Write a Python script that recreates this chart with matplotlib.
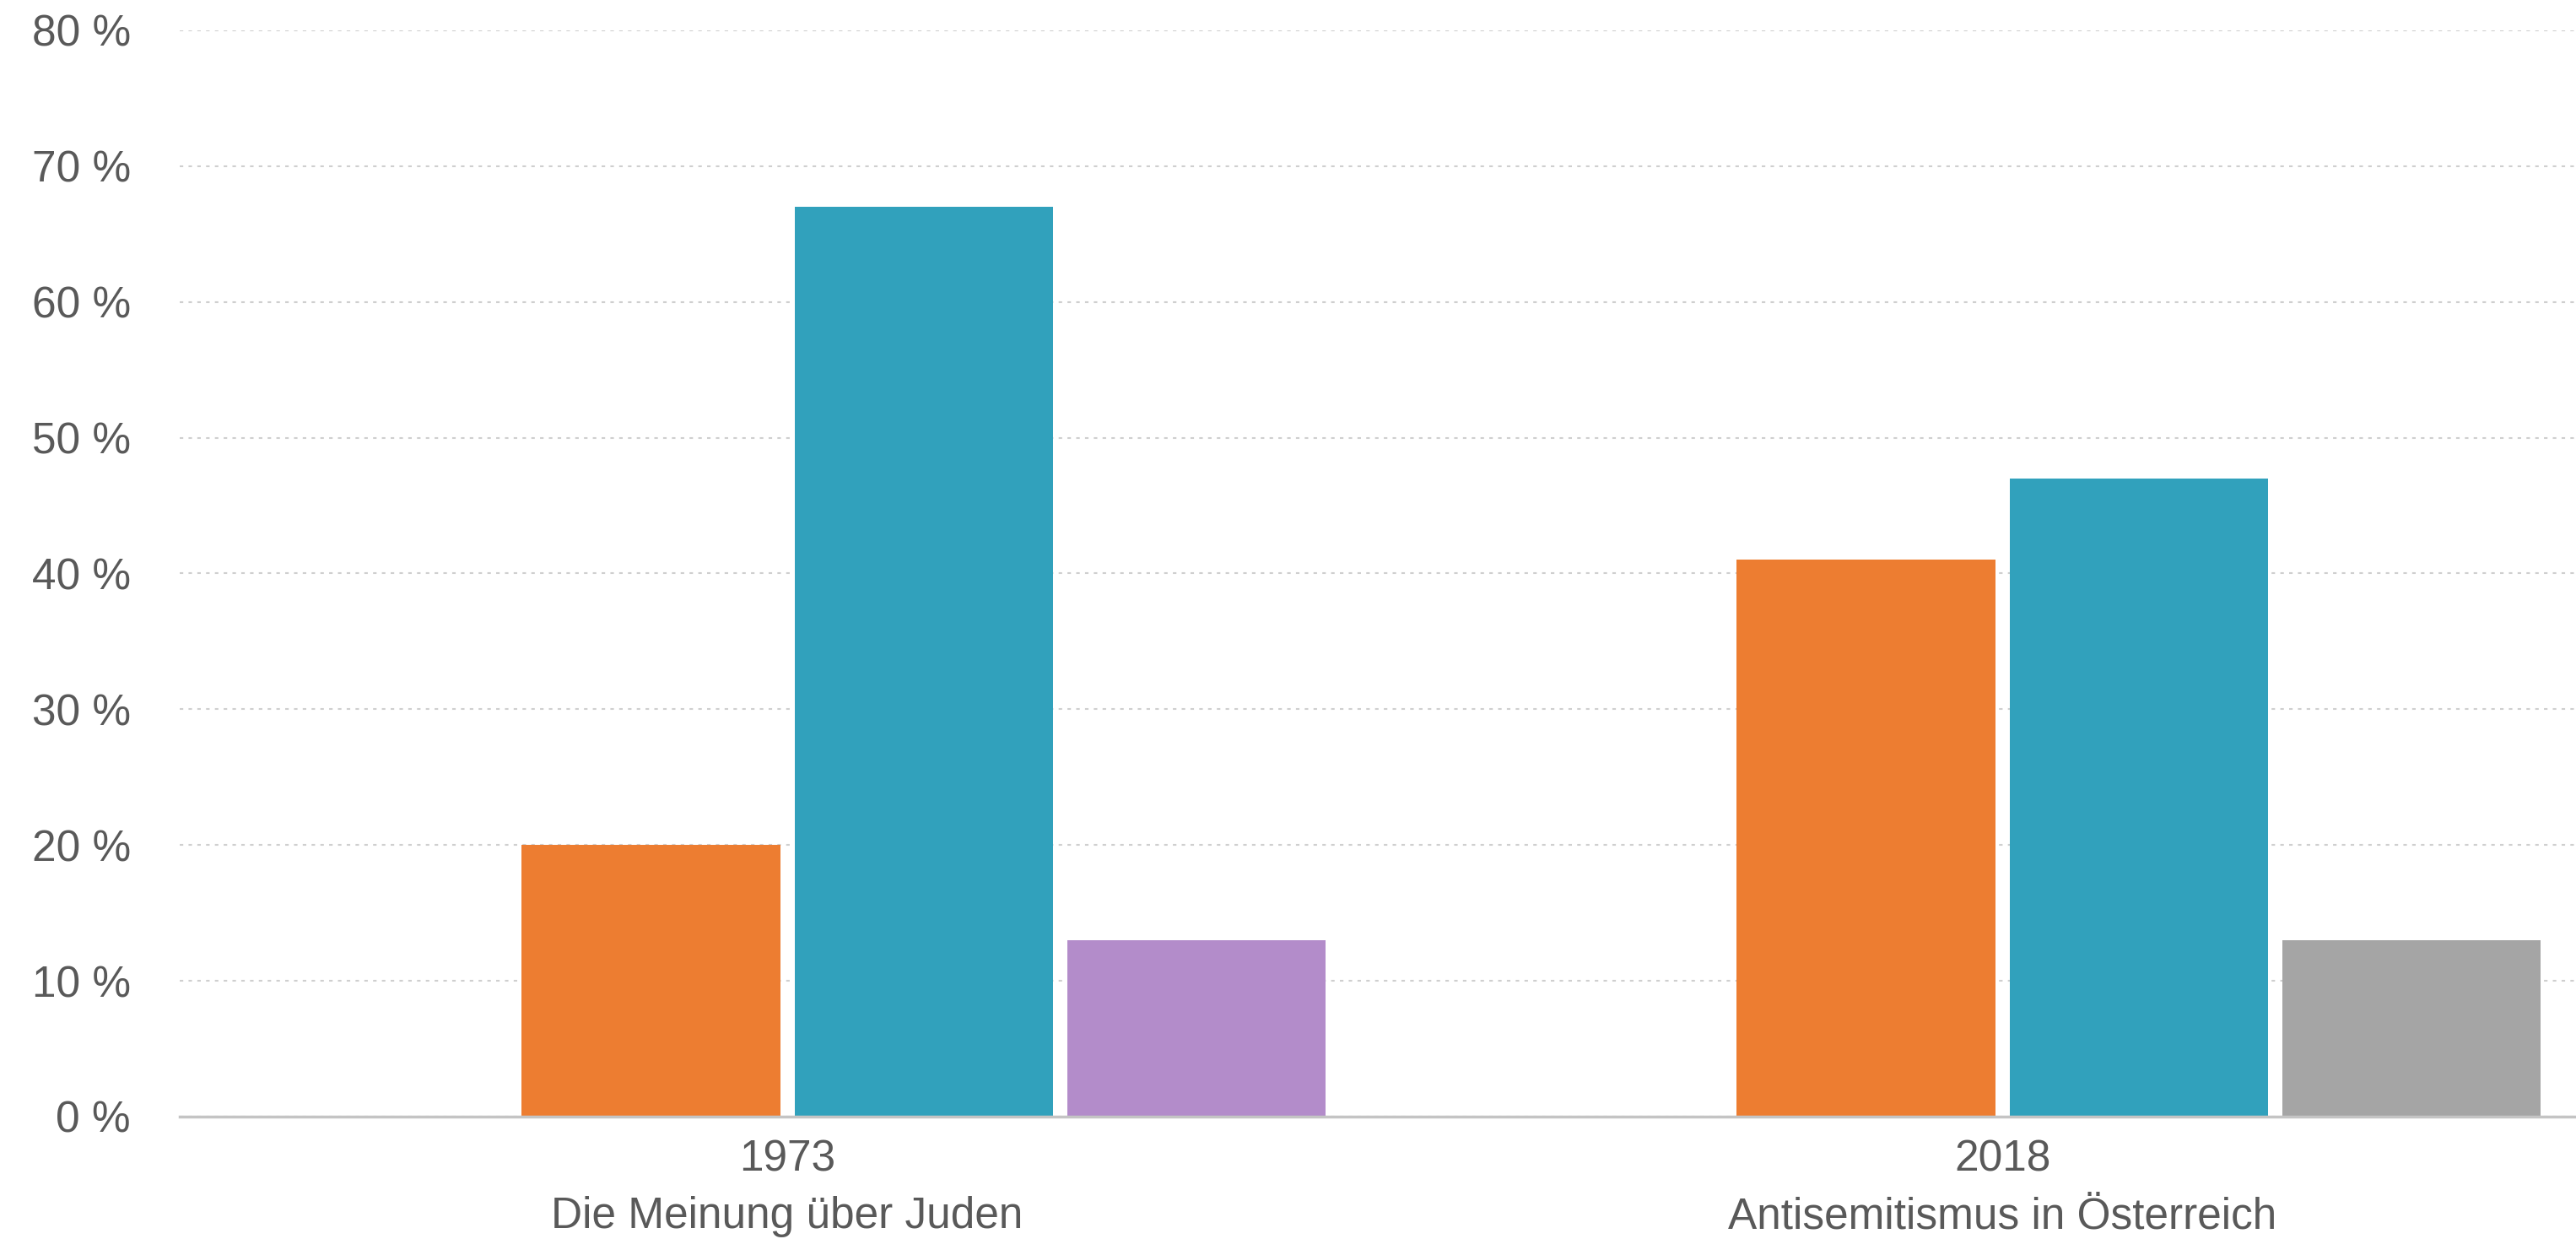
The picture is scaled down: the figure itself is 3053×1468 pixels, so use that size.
import numpy as np
import matplotlib
matplotlib.use('Agg')
import matplotlib.pyplot as plt

# survey results, share of answers per study
groups = ["1973\nDie Meinung über Juden", "2018\nAntisemitismus in Österreich"]
ja = [20, 41]
nein = [67, 47]
rest = [13, 13]
rest_colors = ["#B38CCA", "#A5A5A5"]

plt.rcParams['font.family'] = ['Liberation Sans', 'DejaVu Sans']

fig = plt.figure(figsize=(30.53, 14.68), dpi=100)
ax = fig.add_axes([0.0698, 0.0988, 0.9302, 0.8767])

x = np.arange(len(groups))
step = 0.2245
w = 0.2127
# four slots per group, the first one stays empty
ax.bar(x - 0.5 * step, ja, w, color="#ED7D31", zorder=2)
ax.bar(x + 0.5 * step, nein, w, color="#31A1BC", zorder=2)
ax.bar(x + 1.5 * step, rest, w, color=rest_colors, zorder=2)

ax.set_xlim(-0.5, 1.472)
ax.set_ylim(0, 80)
ax.set_yticks(range(0, 81, 10))
ax.set_yticklabels([f"{v} %" for v in range(0, 81, 10)])
ax.set_xticks(x)
ax.set_xticklabels(groups, linespacing=1.5)

ax.yaxis.grid(True, linestyle=(0, (2, 3)), color="#cfcfcf", linewidth=1.5, zorder=0)
ax.set_axisbelow(True)
for s in ["top", "right", "left"]:
    ax.spines[s].set_visible(False)
ax.spines["bottom"].set_color("#c4c4c4")
ax.spines["bottom"].set_linewidth(2.5)
ax.spines["bottom"].set_zorder(3)

ax.tick_params(axis="y", length=0, pad=42, labelsize=37, labelcolor="#595959")
ax.tick_params(axis="x", length=0, pad=19, labelsize=37, labelcolor="#595959")

fig.savefig("out.png", dpi=100)
